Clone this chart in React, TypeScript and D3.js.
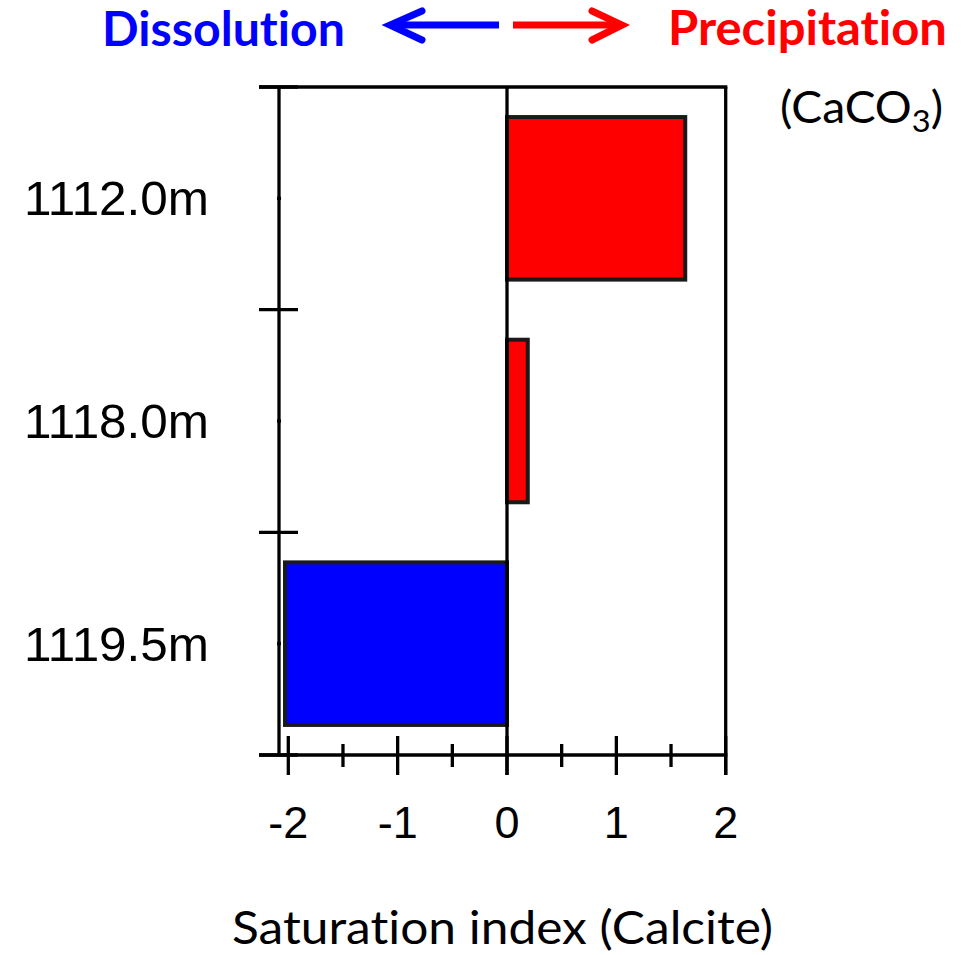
import React from "react";
import * as d3 from "d3";

const depths = ["1112.0m", "1118.0m", "1119.5m"];
const saturation = [1.63, 0.19, -2.03];
const majorTicks = [-2, -1, 0, 1, 2];
const minorTicks = [-1.5, -0.5, 0.5, 1.5];

const W = 967;
const H = 955;
const top = 87;
const bottom = 755;
const xAxisMin = -2.085;

const noLig = { fontVariantLigatures: "none" as const, fontFeatureSettings: '"liga" 0, "clig" 0' };

export default function App() {
  const x = d3.scaleLinear().domain([-2, 2]).range([288.3, 725.7]);
  const y = d3
    .scaleBand<string>()
    .domain(depths)
    .range([top, bottom])
    .paddingInner(0.27)
    .paddingOuter(0.135);
  const step = y.step();
  const leftX = x(xAxisMin);
  const rightX = x(2);
  const zeroX = x(0);
  const bandEdges = d3.range(depths.length + 1).map((i) => top + i * step);
  const lw = 3.3;
  const arrowY = 25;

  return (
    <svg
      width={W}
      height={H}
      style={{ position: "absolute", left: 0, top: 0, background: "#fff" }}
    >
      {/* header */}
      <text
        x={102}
        y={46}
        fontFamily="Lato"
        fontWeight="bold"
        fontSize={47}
        fill="#0000ff"
        textLength={243}
        lengthAdjust="spacingAndGlyphs"
        style={noLig}
      >
        Dissolution
      </text>
      <text
        x={668}
        y={45}
        fontFamily="Lato"
        fontWeight="bold"
        fontSize={47}
        fill="#ff0000"
        textLength={279}
        lengthAdjust="spacingAndGlyphs"
        style={noLig}
      >
        Precipitation
      </text>
      {/* arrows */}
      <g fill="none" strokeWidth={7}>
        <line x1={499} y1={arrowY} x2={392} y2={arrowY} stroke="#0000ff" />
        <polyline
          points={`422,11 390,${arrowY} 422,40`}
          stroke="#0000ff"
          strokeLinecap="round"
          strokeLinejoin="miter"
        />
        <line x1={513} y1={arrowY} x2={620} y2={arrowY} stroke="#ff0000" />
        <polyline
          points={`592,11 622,${arrowY} 592,40`}
          stroke="#ff0000"
          strokeLinecap="round"
          strokeLinejoin="miter"
        />
      </g>
      <text
        x={780}
        y={123}
        fontFamily="Lato"
        fontSize={44}
        fill="#000"
        textLength={163}
        lengthAdjust="spacingAndGlyphs"
      >
        (CaCO
        <tspan fontSize={31} dy={9}>
          3
        </tspan>
        <tspan dy={-9}>)</tspan>
      </text>

      {/* bars */}
      {depths.map((d, i) => {
        const v = saturation[i];
        const x0 = x(Math.min(0, v));
        const x1 = x(Math.max(0, v));
        return (
          <rect
            key={d}
            x={x0}
            y={y(d)!}
            width={x1 - x0}
            height={y.bandwidth()}
            fill={v >= 0 ? "#ff0000" : "#0000ff"}
            stroke="#1a1a1a"
            strokeWidth={4}
          />
        );
      })}

      {/* frame and axes */}
      <g stroke="#000" strokeWidth={lw} fill="none">
        <line x1={259} y1={top} x2={rightX + lw / 2} y2={top} />
        <line x1={leftX} y1={top} x2={leftX} y2={bottom} />
        <line x1={259} y1={bottom} x2={rightX + lw / 2} y2={bottom} />
        <line x1={zeroX} y1={top} x2={zeroX} y2={bottom + 20} />
        <line x1={rightX} y1={top} x2={rightX} y2={bottom + 20} />
        {bandEdges.map((e, i) => (
          <line key={"yt" + i} x1={259} y1={e} x2={298} y2={e} />
        ))}
        {depths.map((d) => (
          <line
            key={"ym" + d}
            x1={leftX - 2}
            y1={y(d)! + y.bandwidth() / 2}
            x2={leftX + 2}
            y2={y(d)! + y.bandwidth() / 2}
          />
        ))}
        {majorTicks.map((t) => (
          <line key={"xt" + t} x1={x(t)} y1={bottom - 19} x2={x(t)} y2={bottom + 20} />
        ))}
        {minorTicks.map((t) => (
          <line key={"xm" + t} x1={x(t)} y1={bottom - 11} x2={x(t)} y2={bottom + 12} />
        ))}
      </g>

      {/* y labels */}
      {depths.map((d) => (
        <text
          key={"yl" + d}
          x={209}
          y={y(d)! + y.bandwidth() / 2 + 17}
          textAnchor="end"
          fontFamily="Liberation Sans, Arial, sans-serif"
          fontSize={48}
          fill="#000"
          textLength={185}
          lengthAdjust="spacingAndGlyphs"
        >
          {d}
        </text>
      ))}

      {/* x tick labels */}
      {majorTicks.map((t) => (
        <text
          key={"xl" + t}
          x={x(t)}
          y={838}
          textAnchor="middle"
          fontFamily="Liberation Sans, Arial, sans-serif"
          fontSize={45}
          fill="#000"
        >
          {String(t)}
        </text>
      ))}

      <text
        x={232}
        y={944}
        fontFamily="Lato"
        fontSize={46}
        fill="#000"
        textLength={541}
        lengthAdjust="spacingAndGlyphs"
        style={noLig}
      >
        Saturation index (Calcite)
      </text>
    </svg>
  );
}
